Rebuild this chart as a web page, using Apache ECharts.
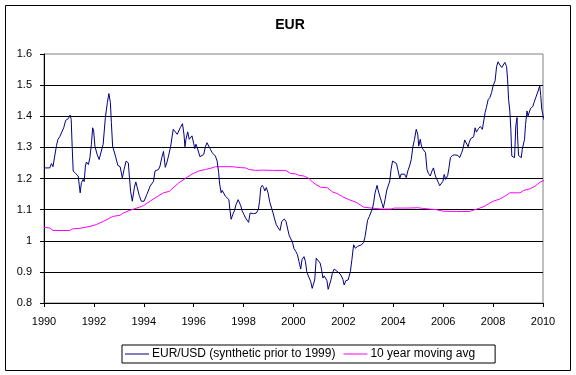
<!DOCTYPE html>
<html>
<head>
<meta charset="utf-8">
<script src="https://cdn.jsdelivr.net/npm/echarts@6/dist/echarts.min.js"></script>
<style>
  html, body { margin: 0; padding: 0; background: #fff; }
  #eur_chart { width: 576px; height: 375px; }
</style>
</head>
<body>
<div id="eur_chart"></div>
<script>
// EUR/USD (decimal years)
const eurYears = [
  1990.0, 1990.07, 1990.23, 1990.3, 1990.36, 1990.43, 1990.5, 1990.56, 1990.63, 1990.71, 1990.79, 1990.87, 1990.97,
  1991.05, 1991.09, 1991.13, 1991.17, 1991.27, 1991.37, 1991.41, 1991.45, 1991.5, 1991.57, 1991.61, 1991.66, 1991.7,
  1991.78, 1991.84, 1991.9, 1991.95, 1991.99, 1992.04, 1992.13, 1992.21, 1992.29, 1992.37, 1992.46, 1992.54, 1992.6,
  1992.66, 1992.7, 1992.75, 1992.8, 1992.88, 1992.96, 1993.05, 1993.1, 1993.14, 1993.21, 1993.29, 1993.38, 1993.42,
  1993.47, 1993.54, 1993.62, 1993.68, 1993.74, 1993.82, 1993.9, 1994.01, 1994.12, 1994.25, 1994.39, 1994.45, 1994.59,
  1994.65, 1994.72, 1994.79, 1994.86, 1994.92, 1994.99, 1995.07, 1995.13, 1995.18, 1995.26, 1995.34, 1995.39, 1995.46,
  1995.55, 1995.61, 1995.65, 1995.69, 1995.76, 1995.82, 1995.88, 1995.93, 1996.0, 1996.04, 1996.09, 1996.13, 1996.2,
  1996.25, 1996.31, 1996.4, 1996.47, 1996.53, 1996.6, 1996.67, 1996.74, 1996.8, 1996.87, 1996.94, 1997.0, 1997.04,
  1997.1, 1997.14, 1997.2, 1997.27, 1997.34, 1997.41, 1997.45, 1997.5, 1997.57, 1997.63, 1997.7, 1997.78, 1997.84,
  1997.89, 1997.94, 1998.01, 1998.08, 1998.13, 1998.2, 1998.26, 1998.33, 1998.4, 1998.45, 1998.51, 1998.59, 1998.64,
  1998.69, 1998.75, 1998.8, 1998.85, 1998.91, 1998.98, 1999.04, 1999.12, 1999.19, 1999.24, 1999.31, 1999.39, 1999.46,
  1999.53, 1999.58, 1999.63, 1999.7, 1999.77, 1999.82, 1999.89, 1999.95, 2000.02, 2000.09, 2000.16, 2000.22, 2000.29,
  2000.34, 2000.42, 2000.48, 2000.53, 2000.58, 2000.64, 2000.69, 2000.75, 2000.8, 2000.85, 2000.91, 2000.99, 2001.07,
  2001.12, 2001.18, 2001.23, 2001.28, 2001.34, 2001.39, 2001.44, 2001.5, 2001.56, 2001.63, 2001.71, 2001.79, 2001.9,
  2001.98, 2002.03, 2002.1, 2002.19, 2002.28, 2002.34, 2002.41, 2002.48, 2002.57, 2002.65, 2002.73, 2002.81, 2002.87,
  2002.92, 2002.97, 2003.04, 2003.11, 2003.17, 2003.21, 2003.27, 2003.35, 2003.4, 2003.48, 2003.55, 2003.6, 2003.67,
  2003.74, 2003.8, 2003.86, 2003.91, 2003.97, 2004.05, 2004.13, 2004.18, 2004.26, 2004.31, 2004.38, 2004.45, 2004.52,
  2004.58, 2004.65, 2004.72, 2004.78, 2004.85, 2004.92, 2004.98, 2005.02, 2005.08, 2005.13, 2005.19, 2005.25, 2005.29,
  2005.35, 2005.41, 2005.48, 2005.55, 2005.61, 2005.67, 2005.72, 2005.8, 2005.86, 2005.94, 2005.99, 2006.04, 2006.1,
  2006.18, 2006.23, 2006.29, 2006.37, 2006.46, 2006.59, 2006.66, 2006.74, 2006.8, 2006.86, 2006.93, 2007.0, 2007.04,
  2007.1, 2007.17, 2007.22, 2007.28, 2007.33, 2007.41, 2007.49, 2007.57, 2007.63, 2007.68, 2007.73, 2007.8, 2007.87,
  2007.94, 2008.0, 2008.08, 2008.14, 2008.2, 2008.27, 2008.35, 2008.41, 2008.47, 2008.54, 2008.58, 2008.62, 2008.67,
  2008.71, 2008.75, 2008.81, 2008.86, 2008.91, 2008.96, 2008.98, 2009.02, 2009.08, 2009.13, 2009.17, 2009.21, 2009.26,
  2009.3, 2009.36, 2009.4, 2009.45, 2009.5, 2009.59, 2009.64, 2009.71, 2009.79, 2009.87, 2009.91, 2009.95, 2010.0, 2010.05
];
const eurValues = [
  1.234, 1.234, 1.234, 1.248, 1.238, 1.272, 1.306, 1.326, 1.334, 1.336, 1.363, 1.387, 1.392,
  1.404, 1.39, 1.3, 1.224, 1.216, 1.208, 1.181, 1.154, 1.187, 1.197, 1.19, 1.24, 1.253,
  1.245, 1.267, 1.31, 1.363, 1.353, 1.304, 1.277, 1.261, 1.261, 1.31, 1.396, 1.444, 1.473,
  1.444, 1.38, 1.304, 1.3, 1.267, 1.242, 1.238, 1.24, 1.202, 1.229, 1.256, 1.25, 1.208,
  1.159, 1.127, 1.17, 1.189, 1.17, 1.145, 1.127, 1.127, 1.148, 1.175, 1.191, 1.224, 1.229,
  1.24, 1.267, 1.287, 1.236, 1.25, 1.272, 1.3, 1.305, 1.358, 1.35, 1.342, 1.339, 1.363,
  1.376, 1.342, 1.302, 1.326, 1.35, 1.326, 1.331, 1.337, 1.313, 1.296, 1.31, 1.302, 1.302,
  1.27, 1.274, 1.277, 1.302, 1.315, 1.311, 1.294, 1.283, 1.289, 1.272, 1.256, 1.219, 1.182,
  1.154, 1.162, 1.165, 1.143, 1.143, 1.132, 1.101, 1.069, 1.085, 1.096, 1.117, 1.132, 1.138,
  1.112, 1.096, 1.085, 1.073, 1.077, 1.059, 1.089, 1.092, 1.087, 1.085, 1.089, 1.1, 1.127,
  1.171, 1.178, 1.171, 1.16, 1.171, 1.154, 1.127, 1.105, 1.087, 1.07, 1.052, 1.041, 1.033,
  1.062, 1.062, 1.07, 1.062, 1.057, 1.019, 1.006, 0.998, 0.975, 0.966, 0.955, 0.933, 0.909,
  0.939, 0.949, 0.933, 0.901, 0.89, 0.885, 0.869, 0.847, 0.861, 0.874, 0.944, 0.939, 0.928,
  0.909, 0.88, 0.887, 0.89, 0.872, 0.844, 0.847, 0.874, 0.896, 0.909, 0.904, 0.899, 0.89,
  0.876, 0.858, 0.872, 0.874, 0.901, 0.939, 0.987, 0.976, 0.982, 0.987, 0.987, 0.995, 1.014,
  1.041, 1.066, 1.078, 1.081, 1.105, 1.122, 1.154, 1.178, 1.16, 1.138, 1.119, 1.105, 1.132,
  1.163, 1.157, 1.192, 1.229, 1.256, 1.253, 1.248, 1.229, 1.2, 1.214, 1.217, 1.214, 1.203,
  1.224, 1.24, 1.261, 1.3, 1.326, 1.358, 1.342, 1.304, 1.326, 1.304, 1.294, 1.296, 1.283,
  1.229, 1.216, 1.208, 1.224, 1.234, 1.213, 1.202, 1.188, 1.177, 1.177, 1.191, 1.213, 1.197,
  1.21, 1.234, 1.267, 1.274, 1.276, 1.274, 1.267, 1.283, 1.298, 1.324, 1.32, 1.302, 1.315,
  1.328, 1.334, 1.334, 1.363, 1.349, 1.36, 1.367, 1.358, 1.363, 1.412, 1.428, 1.453, 1.46,
  1.476, 1.498, 1.514, 1.56, 1.575, 1.565, 1.557, 1.562, 1.573, 1.56, 1.519, 1.455, 1.417,
  1.358, 1.272, 1.27, 1.267, 1.369, 1.396, 1.337, 1.274, 1.272, 1.267, 1.294, 1.298, 1.326,
  1.374, 1.417, 1.401, 1.406, 1.425, 1.431, 1.444, 1.46, 1.478, 1.498, 1.466, 1.423, 1.403, 1.388
];

// 10 year moving average
const avgYears = [
  1990.0, 1990.23, 1990.36, 1991.04, 1991.13, 1991.44, 1991.84, 1992.1, 1992.37, 1992.64, 1992.75, 1993.05,
  1993.18, 1993.45, 1993.72, 1993.99, 1994.25, 1994.52, 1994.79, 1995.03, 1995.12, 1995.39, 1995.66, 1995.93,
  1996.2, 1996.47, 1996.73, 1996.87, 1997.54, 1997.87, 1998.08, 1998.21, 1998.48, 1998.75, 1999.15, 1999.69,
  1999.89, 2000.09, 2000.22, 2000.42, 2000.62, 2000.76, 2000.89, 2001.09, 2001.36, 2001.56, 2001.77, 2001.97,
  2002.23, 2002.5, 2002.7, 2002.81, 2003.11, 2003.51, 2003.91, 2004.05, 2004.58, 2004.98, 2005.18, 2005.45,
  2005.72, 2005.99, 2006.53, 2007.06, 2007.2, 2007.47, 2007.67, 2007.8, 2008.0, 2008.27, 2008.47, 2008.67,
  2009.08, 2009.21, 2009.48, 2009.68, 2009.88, 2010.05
];
const avgValues = [
  1.043, 1.041, 1.033, 1.033, 1.038, 1.04, 1.046, 1.052, 1.062, 1.073, 1.078, 1.082,
  1.089, 1.098, 1.105, 1.113, 1.127, 1.141, 1.154, 1.159, 1.166, 1.185, 1.2, 1.214,
  1.224, 1.229, 1.234, 1.238, 1.238, 1.235, 1.234, 1.229, 1.226, 1.227, 1.226, 1.226,
  1.216, 1.215, 1.21, 1.208, 1.2, 1.189, 1.181, 1.172, 1.17, 1.157, 1.151, 1.141,
  1.132, 1.124, 1.114, 1.108, 1.105, 1.102, 1.102, 1.105, 1.105, 1.106, 1.104, 1.102,
  1.1, 1.095, 1.094, 1.094, 1.098, 1.105, 1.111, 1.118, 1.127, 1.134, 1.143, 1.154,
  1.154, 1.161, 1.167, 1.175, 1.188, 1.194
];

const yearTicks = [1990, 1992, 1994, 1996, 1998, 2000, 2002, 2004, 2006, 2008, 2010];

const font = "'Liberation Sans', Arial, sans-serif";
const chart = echarts.init(document.getElementById("eur_chart"), null, { renderer: "canvas" });

const option = {
  animation: false,
  backgroundColor: "#fff",
  title: {
    text: "EUR",
    left: 290,
    top: 18,
    padding: 0,
    textAlign: "center",
    textStyle: { fontFamily: font, fontSize: 14, fontWeight: "bold", color: "#000" },
  },
  graphic: [
    {
      type: "rect",
      shape: { x: 5.5, y: 5.5, width: 565, height: 365 },
      style: { fill: null, stroke: "#000", lineWidth: 1 },
      silent: true,
      z: -1,
    },
  ],
  legend: {
    left: 122,
    top: 345,
    padding: [3, 20, 3, 3],
    itemGap: 8,
    itemWidth: 24,
    itemHeight: 1,
    icon: "rect",
    borderColor: "#000",
    borderWidth: 1,
    borderRadius: 0,
    textStyle: { fontFamily: font, fontSize: 12, color: "#000", padding: [0, 0, 0, -2] },
    data: ["EUR/USD (synthetic prior to 1999)", "10 year moving avg"],
  },
  grid: {
    left: 44,
    right: 33,
    top: 54,
    bottom: 72,
    show: true,
    borderColor: "#808080",
    borderWidth: 1,
  },
  xAxis: {
    type: "value",
    min: 1990,
    max: 2010,
    interval: 2,
    axisLine: { show: true, lineStyle: { color: "#000", width: 1 } },
    axisTick: { show: true, inside: false, length: 4, lineStyle: { color: "#000" } },
    axisLabel: {
      color: "#000",
      fontFamily: font,
      fontSize: 11,
      margin: 13,
      formatter: (v) => (yearTicks.includes(v) ? String(v) : ""),
    },
    splitLine: { show: false },
  },
  yAxis: {
    type: "value",
    min: 0.8,
    max: 1.6,
    interval: 0.1,
    axisLine: { show: true, lineStyle: { color: "#000", width: 1 } },
    axisTick: { show: true, inside: false, length: 4, lineStyle: { color: "#000" } },
    axisLabel: { color: "#000", fontFamily: font, fontSize: 11, margin: 12 },
    splitLine: { show: true, showMinLine: false, showMaxLine: false, lineStyle: { color: "#000", width: 1 } },
  },
  series: [
    {
      name: "EUR/USD (synthetic prior to 1999)",
      type: "line",
      data: eurYears.map((y, i) => [y, eurValues[i]]),
      showSymbol: false,
      symbol: "none",
      lineStyle: { color: "#000080", width: 1 },
      itemStyle: { color: "#000080" },
      z: 3,
    },
    {
      name: "10 year moving avg",
      type: "line",
      data: avgYears.map((y, i) => [y, avgValues[i]]),
      showSymbol: false,
      symbol: "none",
      lineStyle: { color: "#ff00ff", width: 1 },
      itemStyle: { color: "#ff00ff" },
      z: 2,
    },
  ],
};

chart.setOption(option);
</script>
</body>
</html>
